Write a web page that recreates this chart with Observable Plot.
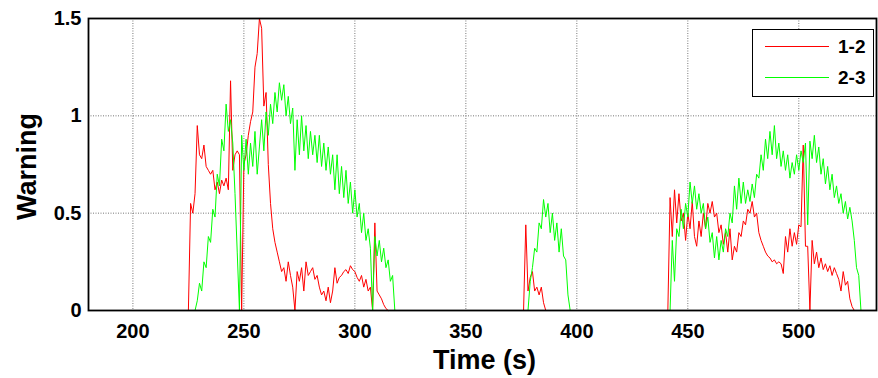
<!DOCTYPE html>
<html><head><meta charset="utf-8">
<script src="https://cdn.jsdelivr.net/npm/d3@7"></script>
<script src="https://cdn.jsdelivr.net/npm/@observablehq/plot@0.6"></script>
<style>
body{margin:0;background:#fff;}
#wrap{position:relative;width:878px;height:378px;font-family:"Liberation Sans",Arial,sans-serif;}
#legend{position:absolute;left:752px;top:29px;width:120px;height:66px;border:1.5px solid #000;background:#fff;}
.lg-line{position:absolute;left:12px;width:64px;height:1px;}
.lg-text{position:absolute;left:85px;font-weight:bold;font-size:19px;line-height:19px;color:#000;}
</style>
</head><body>
<div id="wrap"><div id="chart"></div>
<div id="legend"></div></div>
<script>
// ---- data (1 s sampling) ----
const seriesNames = ["1-2", "2-3"];
const seriesColors = ["#ff0000", "#00ff00"];
const xTicks = [200, 250, 300, 350, 400, 450, 500];
const yTicks = [0, 0.5, 1, 1.5];

// series 1-2 (red), segment starting times and values
const red1Start = 225;
const red1 = [0,0.55,0.5,0.6,0.95,0.8,0.78,0.85,0.74,0.72,0.7,0.72,0.62,0.66,0.6,0.67,0.64,0.68,0.62,1.18,
  0.72,0.8,0.82,0.8,0,0.75,0.8,0.9,0.97,1.02,1.25,1.32,1.5,1.45,1.05,1.12,0.75,0.55,0.42,0.35,
  0.3,0.25,0.2,0.22,0.15,0.25,0.18,0.12,0,0.2,0.15,0.22,0.1,0.25,0.18,0.2,0.22,0.16,0.18,0.12,
  0.08,0.1,0.05,0.12,0.04,0.1,0.22,0.14,0.17,0.18,0.2,0.21,0.19,0.23,0.21,0.2,0.17,0.15,0.18,0.12,
  0.16,0.1,0.12,0,0.45,0.1,0.08,0.06,0.03,0.01,0];
const red2Start = 376;
const red2 = [0,0.44,0.1,0.17,0.2,0.1,0.12,0.08,0.12,0.04,0];
const red3Start = 441;
const red3 = [0,0.58,0.38,0.62,0.45,0.6,0.46,0.5,0.36,0.5,
  0.42,0.56,0.38,0.33,0.46,0.38,0.5,0.42,0.55,0.5,
  0.56,0.48,0.5,0.4,0.44,0.34,0.4,0.3,0.42,0.26,
  0.33,0.3,0.4,0.38,0.46,0.44,0.52,0.5,0.56,0.48,
  0.5,0.4,0.36,0.33,0.3,0.28,0.27,0.25,0.26,0.24,
  0.25,0.24,0.19,0.38,0.3,0.42,0.33,0.4,0.34,0.44,
  0.43,0.85,0.33,0.33,0,0.36,0.24,0.3,0.22,0.27,
  0.21,0.24,0.2,0.23,0.18,0.22,0.19,0.16,0.1,0.2,
  0.13,0.15,0.06,0.02,0];

// series 2-3 (green)
const green1Start = 227;
const green1 = [0,0,0.05,0.14,0.1,0.25,0.22,0.38,0.35,0.52,0.48,0.7,0.64,0.88,0.82,1.06,0.92,0.98,0.86,0.6,0.3,0,
  0.9,0.72,0.88,0.7,0.86,0.74,0.92,0.7,0.84,
  0.98,0.82,1.02,0.9,1.06,0.96,1.12,1.02,1.17,1.08,1.16,1.0,1.1,0.96,1.04,
  0.72,
  0.98,0.8,1.0,0.82,0.95,0.78,0.92,0.8,0.9,0.76,0.9,0.74,0.86,0.72,0.84,0.7,0.8,0.62,0.8,0.6,0.74,0.58,0.72,0.55,0.66,0.5,0.62,
  0.48,0.55,0.4,0.5,0.36,0.42,0.32,
  0,
  0.38,0.28,0.36,0.25,0.32,0.22,0.26,0.15,0.18,0];
const green2Start = 378;
const green2 = [0,0.15,0.22,0.32,0.3,0.45,0.42,0.57,0.48,0.55,0.4,0.5,0.36,0.45,0.3,0.42,0.28,0.26,0.08,0];
const green3Start = 442;
const green3 = [0,0.36,0.15,0.42,0.38,0.52,0.42,0.55,0.48,0.66,0.55,0.64,0.52,0.6,0.5,0.55,0.42,0.48,0.35,0.4,
  0.27,0.38,0.26,0.36,0.3,0.42,0.38,0.5,0.45,0.64,0.52,0.68,0.55,0.66,0.55,0.62,0.56,0.65,0.58,0.7,
  0.68,0.8,0.72,0.88,0.78,0.92,0.8,0.95,0.78,0.86,0.74,0.82,0.72,0.8,0.68,0.76,0.7,0.8,0.72,0.82,
  0.76,0.86,0.44,0.87,0.78,0.9,0.76,0.84,0.7,0.78,0.65,0.74,0.62,0.7,0.58,0.64,0.55,0.6,0.5,0.56,
  0.47,0.53,0.46,0.36,0.22,0.18,0];

// ---- build table ----
function seg(series, id, start, vals) {
  return vals.map((v, i) => ({t: start + i, v, series, id}));
}
const data = [
  ...seg("1-2", "r1", red1Start, red1),
  ...seg("1-2", "r2", red2Start, red2),
  ...seg("1-2", "r3", red3Start, red3),
  ...seg("2-3", "g1", green1Start, green1),
  ...seg("2-3", "g2", green2Start, green2),
  ...seg("2-3", "g3", green3Start, green3)
];

const font = '"Liberation Sans", Arial, sans-serif';
const chart = Plot.plot({
  width: 878, height: 378,
  marginLeft: 88, marginRight: 2, marginTop: 18, marginBottom: 68,
  style: {fontFamily: font, fontWeight: "bold", fontSize: "20px", color: "#000", background: "#fff", overflow: "visible"},
  x: {domain: [180, 535]},
  y: {domain: [0, 1.5]},
  color: {domain: seriesNames, range: seriesColors},
  marks: [
    Plot.gridX(xTicks, {stroke: "#777", strokeOpacity: 1, strokeDasharray: "1,1.5"}),
    Plot.gridY(yTicks, {stroke: "#777", strokeOpacity: 1, strokeDasharray: "1,1.5"}),
    Plot.lineY(data, {x: "t", y: "v", z: "id", stroke: "series", strokeWidth: 1}),
    Plot.frame({stroke: "#000", strokeWidth: 1.8}),
    Plot.axisX(xTicks, {anchor: "bottom", tickSize: 0, tickPadding: 13, label: null, fontSize: 20, tickFormat: d => d}),
    Plot.axisY(yTicks, {anchor: "left", tickSize: 0, tickPadding: 7, label: null, fontSize: 20, tickFormat: d => String(d)}),
    Plot.text(["Time (s)"], {text: d => d, frameAnchor: "bottom", dy: 58, dx: 2, lineAnchor: "bottom", textAnchor: "middle", fontSize: 27, fontWeight: "bold", fill: "#000"}),
    Plot.text(["Warning"], {text: d => d, frameAnchor: "left", rotate: -90, dx: -53, dy: 2, lineAnchor: "bottom", textAnchor: "middle", fontSize: 27, fontWeight: "bold", fill: "#000"})
  ]
});
document.getElementById("chart").appendChild(chart);

// legend
const lg = document.getElementById("legend");
seriesNames.forEach((name, i) => {
  const ln = document.createElement("div");
  ln.className = "lg-line";
  ln.style.top = (16 + i * 31) + "px";
  ln.style.background = seriesColors[i];
  lg.appendChild(ln);
  const tx = document.createElement("div");
  tx.className = "lg-text";
  tx.style.top = (7 + i * 31) + "px";
  tx.textContent = name;
  lg.appendChild(tx);
});
</script>
</body></html>
